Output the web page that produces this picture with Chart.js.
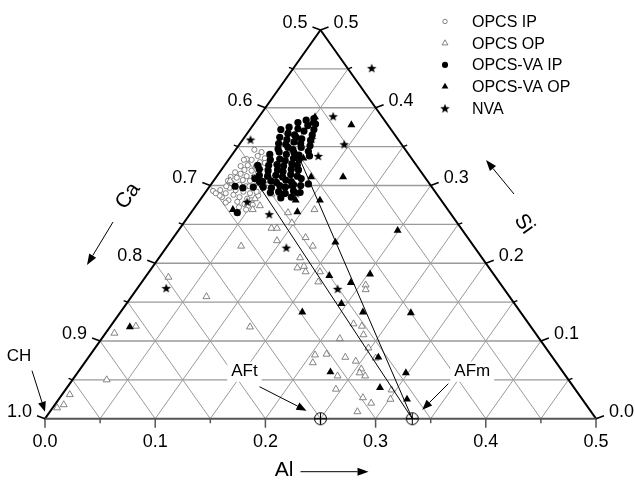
<!DOCTYPE html>
<html>
<head>
<meta charset="utf-8">
<script src="https://cdn.jsdelivr.net/npm/chart.js@4.4.1/dist/chart.umd.min.js"></script>
<style>
  html, body { margin: 0; padding: 0; background: #fff; }
  canvas { display: block; }
</style>
</head>
<body>
<canvas id="ternary" width="635" height="482"></canvas>
<script>
// Compositions as [Al, Si] mole fractions, Ca = 1 - Al - Si
const opcsIP = [
  [0.025, 0.343], [0.024, 0.338], [0.032, 0.335], [0.021, 0.333], [0.030, 0.330], [0.021, 0.326], [0.029, 0.325], [0.036, 0.324],
  [0.021, 0.320], [0.028, 0.319], [0.035, 0.317], [0.020, 0.315], [0.027, 0.312], [0.034, 0.311], [0.019, 0.310], [0.026, 0.307],
  [0.033, 0.306], [0.040, 0.305], [0.018, 0.303], [0.026, 0.301], [0.033, 0.299], [0.040, 0.297], [0.019, 0.297], [0.026, 0.294],
  [0.034, 0.292], [0.041, 0.290], [0.019, 0.290], [0.027, 0.288], [0.034, 0.285], [0.042, 0.283], [0.018, 0.285], [0.026, 0.281],
  [0.035, 0.279], [0.043, 0.276], [0.006, 0.293], [0.015, 0.287], [0.025, 0.278], [0.010, 0.290], [0.047, 0.281], [0.050, 0.287],
  [0.049, 0.297], [0.047, 0.307], [0.044, 0.317], [0.014, 0.317], [0.015, 0.325], [0.016, 0.334], [0.017, 0.346], [0.014, 0.333],
  [0.013, 0.311], [0.046, 0.292], [0.040, 0.310], [0.036, 0.299], [0.035, 0.329], [0.040, 0.272], [0.048, 0.269], [0.051, 0.275],
  [0.015, 0.299], [0.012, 0.294], [0.013, 0.306]
];
const opcsOP = [
  [0.008, 0.110], [0.023, 0.119], [0.031, 0.050], [0.007, 0.031], [0.008, 0.018], [0.004, 0.014], [0.021, 0.182], [0.068, 0.157],
  [0.015, 0.306], [0.067, 0.222], [0.054, 0.269], [0.058, 0.274], [0.061, 0.289], [0.069, 0.289], [0.088, 0.265], [0.110, 0.269],
  [0.098, 0.252], [0.083, 0.245], [0.088, 0.245], [0.096, 0.229], [0.120, 0.233], [0.132, 0.222], [0.128, 0.207], [0.132, 0.194],
  [0.137, 0.196], [0.142, 0.189], [0.155, 0.189], [0.160, 0.176], [0.205, 0.172], [0.208, 0.166], [0.127, 0.118], [0.219, 0.122],
  [0.228, 0.119], [0.235, 0.108], [0.216, 0.103], [0.248, 0.091], [0.204, 0.082], [0.214, 0.083], [0.207, 0.072], [0.233, 0.079],
  [0.245, 0.074], [0.261, 0.078], [0.255, 0.064], [0.256, 0.059], [0.263, 0.055], [0.238, 0.055], [0.245, 0.038], [0.275, 0.027],
  [0.286, 0.020], [0.279, 0.009], [0.296, 0.037], [0.301, 0.025], [0.068, 0.297], [0.049, 0.283]
];
const opcsVaIP = [
  [0.028, 0.372], [0.034, 0.375], [0.039, 0.381], [0.045, 0.384], [0.051, 0.386], [0.056, 0.379], [0.050, 0.377], [0.043, 0.373],
  [0.037, 0.367], [0.044, 0.365], [0.050, 0.370], [0.058, 0.372], [0.032, 0.362], [0.040, 0.359], [0.047, 0.362], [0.053, 0.360],
  [0.060, 0.365], [0.035, 0.354], [0.042, 0.353], [0.048, 0.356], [0.055, 0.354], [0.062, 0.358], [0.038, 0.347], [0.046, 0.349],
  [0.052, 0.346], [0.058, 0.349], [0.065, 0.351], [0.034, 0.340], [0.041, 0.343], [0.049, 0.340], [0.055, 0.342], [0.061, 0.339],
  [0.067, 0.344], [0.038, 0.333], [0.046, 0.334], [0.052, 0.332], [0.058, 0.335], [0.064, 0.333], [0.071, 0.338], [0.040, 0.326],
  [0.047, 0.327], [0.054, 0.325], [0.060, 0.328], [0.066, 0.326], [0.043, 0.319], [0.051, 0.320], [0.057, 0.318], [0.063, 0.321],
  [0.070, 0.320], [0.046, 0.312], [0.053, 0.313], [0.060, 0.311], [0.066, 0.314], [0.073, 0.312], [0.045, 0.305], [0.052, 0.306],
  [0.058, 0.304], [0.065, 0.307], [0.071, 0.305], [0.078, 0.309], [0.049, 0.298], [0.057, 0.297], [0.063, 0.300], [0.069, 0.298],
  [0.075, 0.301], [0.082, 0.300], [0.059, 0.291], [0.066, 0.292], [0.073, 0.290], [0.079, 0.293], [0.086, 0.291], [0.034, 0.321],
  [0.038, 0.313], [0.042, 0.305], [0.023, 0.299], [0.031, 0.297], [0.040, 0.298], [0.042, 0.265], [0.030, 0.326], [0.036, 0.309],
  [0.088, 0.302], [0.081, 0.285], [0.072, 0.284]
];
const opcsVaOP = [
  [0.051, 0.388], [0.052, 0.380], [0.089, 0.378], [0.115, 0.311], [0.086, 0.311], [0.109, 0.281], [0.087, 0.281], [0.073, 0.299],
  [0.036, 0.269], [0.150, 0.227], [0.067, 0.335], [0.096, 0.266], [0.199, 0.242], [0.202, 0.186], [0.166, 0.184], [0.190, 0.175],
  [0.195, 0.148], [0.165, 0.137], [0.220, 0.137], [0.264, 0.136], [0.263, 0.079], [0.229, 0.060], [0.298, 0.059], [0.284, 0.040],
  [0.316, 0.025], [0.018, 0.118], [0.072, 0.288]
];
const nva = [
  [0.071, 0.451], [0.007, 0.359], [0.067, 0.389], [0.095, 0.353], [0.062, 0.360], [0.079, 0.338], [0.083, 0.290], [0.072, 0.263],
  [0.044, 0.279], [0.109, 0.220], [0.182, 0.167], [0.026, 0.168]
];
// tie lines from C-S-H towards AFm
const tieLineA = [[0.031, 0.3135], [0.3333, 0]];
const tieLineB = [[0.065, 0.333], [0.3333, 0]];
// reference phases on the Al axis
const refPhases = ['CH', 'AFt', 'AFm'];
const refPhaseAl = [0, 0.25, 0.3333];

const alTicks = [0.0, 0.1, 0.2, 0.3, 0.4, 0.5];
const caTicks = [0.5, 0.6, 0.7, 0.8, 0.9, 1.0];
const siTicks = [0.0, 0.1, 0.2, 0.3, 0.4, 0.5];

// ternary -> cartesian (x along the Al edge, y = Si height)
const toXY = ([al, si]) => ({ x: al + si / 2, y: si });

const FONT = '"Liberation Sans", Arial, sans-serif';

function makeStar(r) {
  const c = document.createElement('canvas');
  c.width = c.height = Math.ceil(r * 2 + 2);
  const g = c.getContext('2d');
  const cx = c.width / 2, cy = c.height / 2;
  g.beginPath();
  for (let i = 0; i < 10; i++) {
    const rad = i % 2 ? r * 0.42 : r;
    const a = -Math.PI / 2 + i * Math.PI / 5;
    g.lineTo(cx + rad * Math.cos(a), cy + rad * Math.sin(a) + 0.5);
  }
  g.closePath();
  g.fillStyle = '#000';
  g.fill();
  return c;
}

function makeCirclePlus(r) {
  const c = document.createElement('canvas');
  c.width = c.height = r * 2 + 3;
  const g = c.getContext('2d');
  const m = c.width / 2;
  g.strokeStyle = '#000';
  g.lineWidth = 1;
  g.beginPath();
  g.arc(m, m, r, 0, Math.PI * 2);
  g.moveTo(m - r, m); g.lineTo(m + r, m);
  g.moveTo(m, m - r); g.lineTo(m, m + r);
  g.stroke();
  return c;
}

const starImg = makeStar(5);
const phaseImg = makeCirclePlus(6);

function arrow(ctx, x1, y1, x2, y2, len, half) {
  const a = Math.atan2(y2 - y1, x2 - x1);
  const bx = x2 - len * Math.cos(a), by = y2 - len * Math.sin(a);
  ctx.beginPath();
  ctx.moveTo(x1, y1);
  ctx.lineTo(bx, by);
  ctx.stroke();
  ctx.beginPath();
  ctx.moveTo(x2, y2);
  ctx.lineTo(bx + half * Math.sin(a), by - half * Math.cos(a));
  ctx.lineTo(bx - half * Math.sin(a), by + half * Math.cos(a));
  ctx.closePath();
  ctx.fill();
}

const ternaryFrame = {
  id: 'ternaryFrame',
  beforeDraw(chart) {
    const ctx = chart.ctx;
    ctx.save();
    ctx.fillStyle = '#fff';
    ctx.fillRect(0, 0, chart.width, chart.height);
    ctx.restore();
  },
  beforeDatasetsDraw(chart) {
    const { ctx, scales: { x, y } } = chart;
    const P = (al, si) => [x.getPixelForValue(al + si / 2), y.getPixelForValue(si)];
    const line = (a, b) => { ctx.beginPath(); ctx.moveTo(a[0], a[1]); ctx.lineTo(b[0], b[1]); ctx.stroke(); };
    ctx.save();

    // grid every 0.05
    ctx.strokeStyle = '#9a9a9a';
    ctx.lineWidth = 1;
    for (let i = 1; i < 10; i++) {
      const v = i * 0.05;
      line(P(v, 0), P(v, 0.5 - v));   // constant Al
      line(P(v, 0), P(0, v));         // constant Ca
    }
    ctx.lineWidth = 1.4;
    for (let i = 1; i < 10; i++) {
      const v = i * 0.05;
      line(P(0, v), P(0.5 - v, v));   // constant Si
    }

    // phase labels with a white box over the grid
    ctx.font = '17px ' + FONT;
    ctx.textAlign = 'center';
    ctx.textBaseline = 'middle';
    const phaseLayout = {
      CH:  { label: [-26, -62], tail: [-13, -48], tip: [0, -7], box: false },
      AFt: { label: [-76, -47], tail: [-61, -32], tip: [-14, -8], box: true },
      AFm: { label: [60, -47], tail: [36, -35], tip: [10, -9], box: true }
    };
    refPhases.forEach((name, i) => {
      const [px, py] = P(refPhaseAl[i], 0);
      const L = phaseLayout[name];
      const tx = px + L.label[0], ty = py + L.label[1];
      if (L.box) {
        const w = ctx.measureText(name).width + 8;
        ctx.fillStyle = '#fff';
        ctx.fillRect(tx - w / 2, ty - 10, w, 20);
      }
      ctx.fillStyle = '#000';
      ctx.fillText(name, tx, ty);
      ctx.strokeStyle = '#000';
      ctx.lineWidth = 1;
      arrow(ctx, px + L.tail[0], py + L.tail[1], px + L.tip[0], py + L.tip[1], 10, 4);
    });

    // triangle edges
    ctx.lineCap = 'round';
    ctx.strokeStyle = '#000';
    ctx.lineWidth = 2;
    line(P(0, 0), P(0, 0.5));
    line(P(0, 0.5), P(0.5, 0));
    ctx.strokeStyle = '#555';
    line(P(0, 0), P(0.5, 0));

    // ticks
    ctx.lineWidth = 1.5;
    ctx.lineCap = 'butt';
    for (let i = 0; i <= 10; i++) {
      const v = i * 0.05, major = i % 2 === 0, k = major ? 1 : 0.5;
      let p = P(v, 0);
      ctx.strokeStyle = '#555';
      line(p, [p[0], p[1] + 9 * k]);
      ctx.strokeStyle = '#000';
      p = P(0, v);
      line(p, [p[0] - 8 * k, p[1] - 3 * k]);
      p = P(0.5 - v, v);
      line(p, [p[0] + 8 * k, p[1] - 3 * k]);
    }

    // tick labels
    ctx.fillStyle = '#000';
    ctx.font = '18px ' + FONT;
    ctx.textBaseline = 'middle';
    ctx.textAlign = 'center';
    alTicks.forEach(v => {
      const p = P(v, 0);
      ctx.fillText(v.toFixed(1), p[0], p[1] + 23);
    });
    ctx.textAlign = 'right';
    caTicks.forEach(v => {
      const p = P(0, 1 - v);
      ctx.fillText(v.toFixed(1), p[0] - 13, p[1] - 7);
    });
    ctx.textAlign = 'left';
    siTicks.forEach(v => {
      const p = P(0.5 - v, v);
      ctx.fillText(v.toFixed(1), p[0] + 13, p[1] - 7);
    });

    // axis titles and direction arrows
    const area = chart.chartArea;
    const cx = (area.left + area.right) / 2;
    const edgeAngle = Math.atan2(area.bottom - area.top, cx - area.left);
    ctx.font = '21px ' + FONT;
    ctx.lineWidth = 1;
    ctx.strokeStyle = '#000';
    ctx.textAlign = 'right';
    ctx.fillText('Al', cx - 27, area.bottom + 52);
    arrow(ctx, cx - 20, area.bottom + 53, cx + 48, area.bottom + 53, 11, 4);

    ctx.save();
    ctx.translate(128, 196);
    ctx.rotate(-edgeAngle);
    ctx.textAlign = 'center';
    ctx.fillText('Ca', 0, 0);
    ctx.restore();
    arrow(ctx, 113, 222, 87, 265, 11, 4);

    ctx.save();
    ctx.translate(524, 224);
    ctx.rotate(edgeAngle);
    ctx.textAlign = 'center';
    ctx.fillText('Si', 0, 0);
    ctx.restore();
    arrow(ctx, 514, 194, 486, 160, 11, 4);

    ctx.restore();
  },
  afterDraw(chart) {
    // legend
    const ctx = chart.ctx;
    ctx.save();
    ctx.font = '16px ' + FONT;
    ctx.textAlign = 'left';
    ctx.textBaseline = 'middle';
    chart.data.datasets.slice(0, 5).forEach((ds, i) => {
      const yy = 21.5 + i * 21.7;
      ctx.fillStyle = ds.backgroundColor;
      ctx.strokeStyle = ds.borderColor;
      ctx.lineWidth = ds.borderWidth;
      Chart.helpers.drawPoint(ctx, {
        pointStyle: ds.pointStyle,
        radius: ds.pointRadius * 0.85,
        borderWidth: ds.borderWidth,
        rotation: 0
      }, 445, yy);
      ctx.fillStyle = '#000';
      ctx.fillText(ds.label, 472, yy + 1);
    });
    ctx.restore();
  }
};

new Chart(document.getElementById('ternary'), {
  type: 'scatter',
  data: {
    datasets: [
      {
        label: 'OPCS IP', data: opcsIP.map(toXY), order: 6,
        pointStyle: 'circle', pointRadius: 2.6, borderWidth: 0.8,
        borderColor: '#666', backgroundColor: '#fff'
      },
      {
        label: 'OPCS OP', data: opcsOP.map(toXY), order: 5,
        pointStyle: 'triangle', pointRadius: 4, borderWidth: 0.8,
        borderColor: '#666', backgroundColor: '#fff'
      },
      {
        label: 'OPCS-VA IP', data: opcsVaIP.map(toXY), order: 4,
        pointStyle: 'circle', pointRadius: 3.6, borderWidth: 0,
        borderColor: '#000', backgroundColor: '#000'
      },
      {
        label: 'OPCS-VA OP', data: opcsVaOP.map(toXY), order: 3,
        pointStyle: 'triangle', pointRadius: 4.6, borderWidth: 0,
        borderColor: '#000', backgroundColor: '#000'
      },
      {
        label: 'NVA', data: nva.map(toXY), order: 2,
        pointStyle: starImg, pointRadius: 5, borderWidth: 0,
        borderColor: '#000', backgroundColor: '#000'
      },
      {
        data: tieLineA.map(toXY), order: 1, showLine: true,
        borderColor: '#000', borderWidth: 1, pointRadius: 0
      },
      {
        data: tieLineB.map(toXY), order: 1, showLine: true,
        borderColor: '#000', borderWidth: 1, pointRadius: 0
      },
      {
        data: refPhaseAl.slice(1).map(al => toXY([al, 0])), order: 0,
        pointStyle: phaseImg, pointRadius: 7
      }
    ]
  },
  options: {
    responsive: false,
    animation: false,
    devicePixelRatio: 1,
    layout: { padding: { left: 45, right: 39, top: 30, bottom: 63.3 } },
    datasets: { scatter: { clip: false } },
    scales: {
      x: { type: 'linear', min: 0, max: 0.5, display: false },
      y: { type: 'linear', min: 0, max: 0.5, display: false }
    },
    plugins: { legend: { display: false }, tooltip: { enabled: false } },
    events: []
  },
  plugins: [ternaryFrame]
});
</script>
</body>
</html>
